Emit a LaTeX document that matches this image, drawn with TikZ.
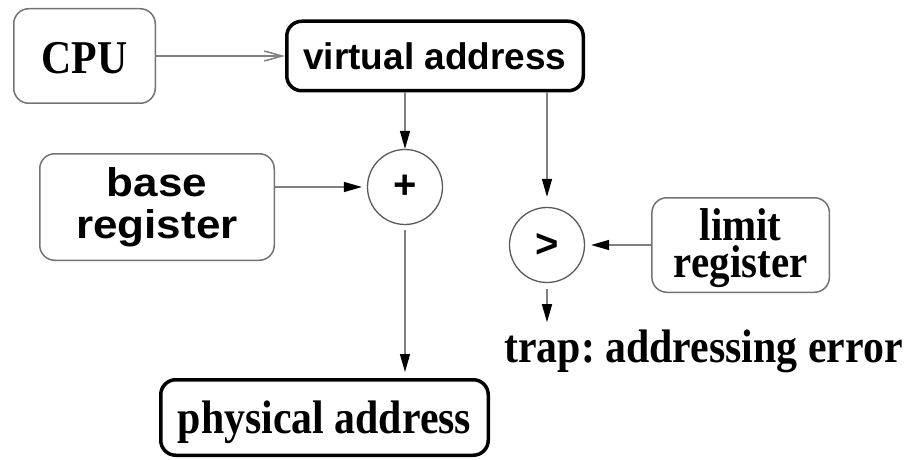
\documentclass[tikz,border=0pt]{standalone}
\usepackage{fontspec}
\setmainfont{Liberation Serif}[FakeStretch=0.89]
\newfontfamily\labelsans{Liberation Sans}
\newfontfamily\widesans{Liberation Sans}[FakeStretch=1.1]
\usetikzlibrary{positioning,arrows.meta}

\tikzset{
	lightbox/.style={draw=black!55, line width=1.5pt, rounded corners=15pt, inner sep=0pt},
	heavybox/.style={draw=black, line width=3.5pt, rounded corners=15pt, inner sep=0pt},
	opcircle/.style={circle, draw=black!65, line width=1.3pt, minimum size=75pt, inner sep=0pt, font=\labelsans\bfseries\fontsize{40}{40}\selectfont},
	serifbf/.style={font=\frenchspacing\bfseries\fontsize{47}{36}\selectfont},
	flow/.style={draw=black!50, line width=1.5pt, -{Triangle[length=18pt,width=10pt,color=black]}},
	feed/.style={draw=black!50, line width=1.5pt, -{Straight Barb[length=18pt,width=10pt]}},
}

\begin{document}
\begin{tikzpicture}[x=1pt, y=-1pt]
	\useasboundingbox (0,0) rectangle (914,460);
	\node[lightbox, serifbf, minimum width=141.5pt, minimum height=94.5pt, text height=36pt, text depth=0pt] (cpu) at (84.5,56) {CPU};
	\node[heavybox, right=129pt of cpu, minimum width=296.5pt, minimum height=69.5pt, font=\labelsans\bfseries\fontsize{37}{37}\selectfont] (vaddr) {virtual address};
	\node[opcircle] (plus) at (405,187) {+};
	\node[opcircle] (gt) at (547,245) {>};
	\node[lightbox, align=center, minimum width=234.5pt, minimum height=106.5pt, font=\widesans\bfseries\fontsize{40}{42}\selectfont] (base) at (157,207) {base\\register};
	\node[lightbox, right=66pt of gt, align=center, minimum width=177.5pt, minimum height=94.5pt, font=\bfseries\fontsize{46}{37}\selectfont] (limit) {\rule{0pt}{39pt}limit\\register};
	\node[serifbf, anchor=base, inner sep=0pt] (trap) at (703.5,362) {trap: addressing error};
	\node[heavybox, serifbf, minimum width=327.5pt, minimum height=75.5pt, text height=31pt, text depth=0pt] (phys) at (324.5,417.5) {physical address};

	\draw[feed] (cpu) -- (vaddr);
	\draw[flow] (vaddr.south -| plus) -- (plus);
	\draw[flow, shorten >=10pt] (vaddr.south -| gt) -- (gt);
	\draw[flow, shorten >=5pt] (base.east |- plus) -- (plus);
	\draw[flow, shorten >=6pt] (limit) -- (gt);
	\draw[flow, shorten <=6pt, shorten >=7pt] (gt) -- (gt |- trap.north);
	\draw[flow, shorten <=5pt, shorten >=6pt] (plus) -- (plus |- phys.north);
\end{tikzpicture}
\end{document}
